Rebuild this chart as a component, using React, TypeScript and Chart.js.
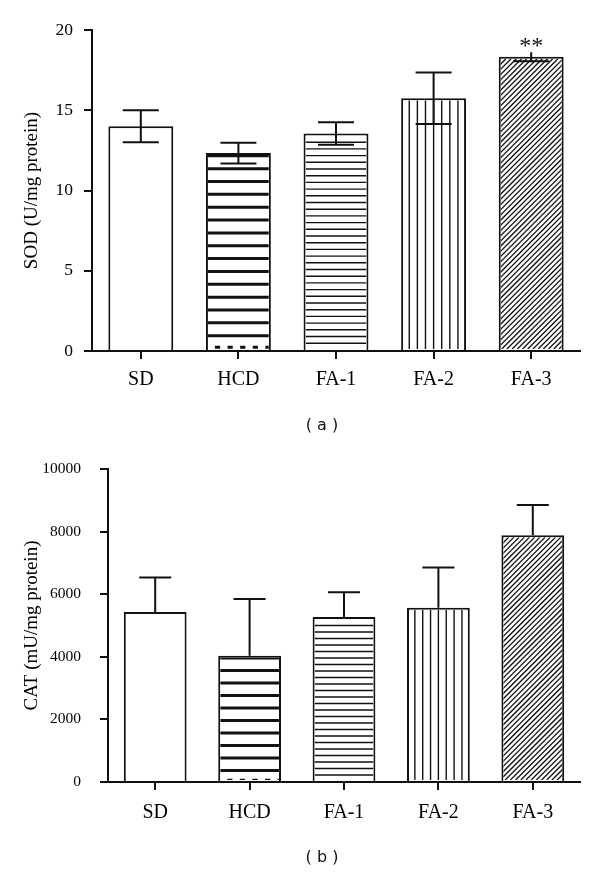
import React, { useEffect, useRef } from "react";
import { Chart, registerables } from "chart.js";

Chart.register(...registerables);

// ---------- data ----------
const categories = ["SD", "HCD", "FA-1", "FA-2", "FA-3"];
const sodMeans = [14.0, 12.33, 13.55, 15.75, 18.33];
const sodErrors = [1.0, 0.65, 0.7, 1.6, 0.28];
const sodAnnotations = ["", "", "", "", "**"];
const catMeans = [5430, 4030, 5270, 5570, 7880];
const catErrors = [1100, 1820, 790, 1280, 970];
const catAnnotations = ["", "", "", "", ""];
const sodTickMax = 20;
const sodTickStep = 5;
const catTickMax = 10000;
const catTickStep = 2000;
const barPatterns = ["none", "thickH", "thinH", "vert", "diag"];

const SERIF = "'Liberation Serif', 'Times New Roman', serif";
const INK = "#111";

type PanelOpts = {
  errBoth: boolean;
  capWidth: number;
  topCaps: boolean[];
  thickSpacing: number;
  thickFirst: number;
  dashOffset: number;
  dashWidth: number;
  thinSpacing: number;
  errors: number[];
  annotations: string[];
};

function drawPattern(
  ctx: CanvasRenderingContext2D,
  type: string,
  l: number,
  t: number,
  r: number,
  b: number,
  o: PanelOpts
) {
  ctx.save();
  ctx.beginPath();
  ctx.rect(l, t, r - l, b - t);
  ctx.clip();
  ctx.strokeStyle = INK;
  if (type === "thickH") {
    ctx.lineWidth = 3;
    for (let y = b - o.thickFirst; y > t - 3; y -= o.thickSpacing) {
      ctx.beginPath();
      ctx.moveTo(l, y);
      ctx.lineTo(r, y);
      ctx.stroke();
    }
    ctx.lineWidth = o.dashWidth;
    ctx.setLineDash([5.2, 7.4]);
    ctx.lineDashOffset = -7;
    ctx.beginPath();
    ctx.moveTo(l, b - o.dashOffset);
    ctx.lineTo(r, b - o.dashOffset);
    ctx.stroke();
    ctx.setLineDash([]);
  } else if (type === "thinH") {
    ctx.lineWidth = 1.4;
    for (let y = t + o.thinSpacing; y < b; y += o.thinSpacing) {
      ctx.beginPath();
      ctx.moveTo(l, y);
      ctx.lineTo(r, y);
      ctx.stroke();
    }
  } else if (type === "vert") {
    ctx.lineWidth = 1.4;
    const w = r - l + 4;
    const step = w / 8;
    for (let k = 1; k < 8; k++) {
      const x = l - 2 + k * step;
      ctx.beginPath();
      ctx.moveTo(x, t);
      ctx.lineTo(x, b);
      ctx.stroke();
    }
  } else if (type === "diag") {
    ctx.lineWidth = 1.3;
    const h = b - t;
    const period = 5.2;
    for (let x = l - h; x < r + period; x += period) {
      ctx.beginPath();
      ctx.moveTo(x, b);
      ctx.lineTo(x + h, t);
      ctx.stroke();
    }
  }
  ctx.restore();
}

const decorPlugin = {
  id: "decor",
  afterDatasetsDraw(chart: any, _args: any, opts: PanelOpts) {
    const ctx: CanvasRenderingContext2D = chart.ctx;
    const meta = chart.getDatasetMeta(0);
    const yScale = chart.scales.y;
    const values: number[] = chart.data.datasets[0].data;
    meta.data.forEach((bar: any, i: number) => {
      const p = bar.getProps(["x", "y", "base", "width"], true);
      const bw = 2;
      const l = p.x - p.width / 2 + bw;
      const r = p.x + p.width / 2 - bw;
      const t = p.y + bw;
      const b = p.base - 1;
      drawPattern(ctx, barPatterns[i], l, t, r, b, opts);
    });
    // error bars
    ctx.save();
    ctx.strokeStyle = INK;
    ctx.lineWidth = 2;
    meta.data.forEach((bar: any, i: number) => {
      const p = bar.getProps(["x", "y"], true);
      const v = values[i];
      const e = opts.errors[i];
      const yTop = yScale.getPixelForValue(v + e);
      const yBot = opts.errBoth ? yScale.getPixelForValue(v - e) : p.y;
      const hw = opts.capWidth / 2;
      ctx.beginPath();
      ctx.moveTo(p.x, yBot);
      ctx.lineTo(p.x, yTop);
      if (opts.topCaps[i]) {
        ctx.moveTo(p.x - hw, yTop);
        ctx.lineTo(p.x + hw, yTop);
      }
      if (opts.errBoth) {
        ctx.moveTo(p.x - hw, yBot);
        ctx.lineTo(p.x + hw, yBot);
      }
      ctx.stroke();
      const ann = opts.annotations[i];
      if (ann) {
        ctx.fillStyle = INK;
        ctx.font = `24px ${SERIF}`;
        ctx.textAlign = "center";
        ctx.textBaseline = "alphabetic";
        ctx.fillText(ann, p.x, yTop + 0.5);
      }
    });
    ctx.restore();
  },
};

function makeConfig(
  means: number[],
  title: string,
  max: number,
  step: number,
  yWidth: number,
  xHeight: number,
  padTop: number,
  tickSize: number,
  tickPad: number,
  xPad: number,
  decor: PanelOpts
): any {
  return {
    type: "bar",
    data: {
      labels: categories,
      datasets: [
        {
          data: means,
          backgroundColor: "#ffffff",
          borderColor: INK,
          borderWidth: 2,
          borderSkipped: "start",
          barPercentage: 0.665,
          categoryPercentage: 1,
        },
      ],
    },
    plugins: [decorPlugin],
    options: {
      responsive: false,
      animation: false,
      events: [],
      layout: { padding: { top: padTop, right: 20, left: 0, bottom: 0 } },
      plugins: {
        legend: { display: false },
        tooltip: { enabled: false },
        title: { display: false },
        decor,
      },
      scales: {
        x: {
          offset: true,
          afterFit: (s: any) => {
            s.height = xHeight;
          },
          grid: {
            display: true,
            offset: false,
            drawOnChartArea: false,
            drawTicks: true,
            tickLength: 8,
            color: INK,
            lineWidth: 2,
          },
          border: { display: true, color: INK, width: 2 },
          ticks: {
            color: "#000",
            padding: xPad,
            font: { family: SERIF, size: 20 },
            maxRotation: 0,
          },
        },
        y: {
          min: 0,
          max,
          afterFit: (s: any) => {
            s.width = yWidth;
          },
          grid: {
            display: true,
            drawOnChartArea: false,
            drawTicks: true,
            tickLength: 8,
            color: INK,
            lineWidth: 2,
          },
          border: { display: true, color: INK, width: 2 },
          ticks: {
            stepSize: step,
            color: "#000",
            padding: tickPad,
            font: { family: SERIF, size: tickSize },
            callback: (v: any) => String(v),
          },
          title: {
            display: true,
            text: title,
            color: "#000",
            font: { family: SERIF, size: 19 },
            padding: { top: 20.5, bottom: 0 },
          },
        },
      },
    },
  };
}

function Panel(props: { config: any; top: number; height: number }) {
  const ref = useRef<HTMLCanvasElement | null>(null);
  useEffect(() => {
    if (!ref.current) return;
    const chart = new Chart(ref.current, props.config);
    return () => chart.destroy();
  }, []);
  return (
    <canvas
      ref={ref}
      width={600}
      height={props.height}
      style={{ position: "absolute", left: 0, top: props.top, width: 600, height: props.height, display: "block" }}
    />
  );
}

export default function App() {
  const topCfg = makeConfig(sodMeans, "SOD (U/mg protein)", sodTickMax, sodTickStep, 92, 49, 30, 17.5, 11, 9, {
    errBoth: true,
    capWidth: 36,
    topCaps: [true, true, true, true, false],
    thickSpacing: 12.85,
    thickFirst: 13.3,
    dashOffset: 1.8,
    dashWidth: 3,
    thinSpacing: 6.7,
    errors: sodErrors,
    annotations: sodAnnotations,
  });
  const botCfg = makeConfig(catMeans, "CAT (mU/mg protein)", catTickMax, catTickStep, 108, 90, 69, 15.5, 19, 11, {
    errBoth: false,
    capWidth: 32,
    topCaps: [true, true, true, true, true],
    thickSpacing: 12.5,
    thickFirst: 9.6,
    dashOffset: 0.5,
    dashWidth: 1.5,
    thinSpacing: 6.5,
    errors: catErrors,
    annotations: catAnnotations,
  });
  const capStyle: React.CSSProperties = {
    position: "absolute",
    left: 322,
    transform: "translateX(-50%)",
    fontFamily: "'DejaVu Sans', Verdana, sans-serif",
    fontSize: 16,
    lineHeight: "20px",
    color: "#111",
    whiteSpace: "pre",
  };
  return (
    <div style={{ position: "absolute", left: 0, top: 0, width: 600, height: 872, background: "#fff", overflow: "hidden" }}>
      <Panel config={topCfg} top={0} height={400} />
      <Panel config={botCfg} top={400} height={472} />
      <div style={{ ...capStyle, top: 415 }}>( a )</div>
      <div style={{ ...capStyle, top: 847 }}>( b )</div>
    </div>
  );
}
